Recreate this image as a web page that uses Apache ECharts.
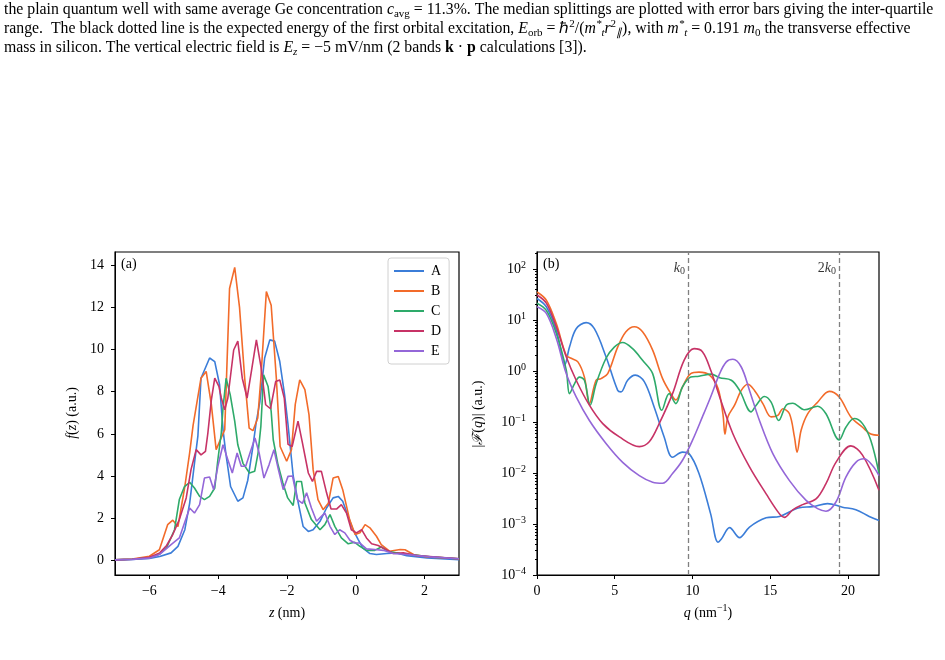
<!DOCTYPE html>
<html>
<head>
<meta charset="utf-8">
<script src="https://cdn.jsdelivr.net/npm/echarts@6/dist/echarts.min.js"></script>
<style>html,body{margin:0;padding:0;background:#fff}#main{width:945px;height:660px}</style>
</head>
<body>
<div id="main"></div>
<script>
// series names and colours
const names = ['A', 'B', 'C', 'D', 'E'];
const colors = ['#3b7dd8', '#f26b2a', '#2eaa6a', '#c73366', '#9467d8'];

// panel (a): f(z) in a.u., pairs [z (nm), f]
const fA = [[-7,0.02],[-6.5,0.04],[-6,0.09],[-5.7,0.18],[-5.37,0.35],[-5.17,0.66],[-4.97,1.45],[-4.83,2.7],[-4.69,4.6],[-4.59,5.9],[-4.5,8.64],[-4.25,9.6],[-4.1,9.43],[-3.96,8.33],[-3.86,6.2],[-3.78,5.1],[-3.64,3.5],[-3.43,2.8],[-3.28,2.96],[-3.14,3.8],[-2.99,5.4],[-2.9,6.5],[-2.79,7.5],[-2.65,9.6],[-2.5,10.46],[-2.36,10.4],[-2.21,9.43],[-2.07,7.85],[-1.97,6.43],[-1.82,4.0],[-1.67,2.7],[-1.53,1.6],[-1.38,1.37],[-1.24,1.45],[-1.04,1.85],[-0.85,2.48],[-0.66,2.96],[-0.51,3.03],[-0.38,2.8],[-0.22,2.08],[-0.08,1.45],[0.07,0.98],[0.2,0.59],[0.41,0.32],[0.6,0.27],[0.9,0.32],[1.19,0.35],[1.48,0.22],[2.07,0.11],[3,0.03]];
const fB = [[-7,0.02],[-6.5,0.06],[-6,0.19],[-5.71,0.5],[-5.47,1.69],[-5.32,1.9],[-5.17,1.6],[-4.97,3.5],[-4.83,5.1],[-4.73,6.4],[-4.5,8.64],[-4.35,8.96],[-4.2,7.4],[-4.06,5.25],[-3.81,6.2],[-3.67,12.9],[-3.52,13.9],[-3.38,12.0],[-3.23,8.64],[-3.1,6.27],[-2.99,6.15],[-2.85,6.75],[-2.76,8.64],[-2.6,12.75],[-2.46,12.1],[-2.31,8.64],[-2.2,5.4],[-2.01,4.7],[-1.87,5.25],[-1.76,7.4],[-1.63,8.56],[-1.48,8.1],[-1.36,6.9],[-1.24,4.3],[-1.1,2.88],[-0.95,2.4],[-0.8,2.7],[-0.66,3.9],[-0.51,3.98],[-0.38,3.35],[-0.18,1.93],[-0.02,1.22],[0.12,1.3],[0.27,1.69],[0.41,1.54],[0.6,1.14],[0.74,0.74],[0.98,0.43],[1.29,0.51],[1.43,0.5],[1.68,0.27],[2.07,0.16],[3,0.07]];
const fC = [[-7,0.02],[-6.5,0.05],[-6,0.12],[-5.7,0.3],[-5.5,0.6],[-5.27,1.45],[-5.13,2.88],[-4.98,3.5],[-4.83,3.7],[-4.69,3.43],[-4.54,3.03],[-4.4,2.88],[-4.25,3.03],[-4.1,3.43],[-4.01,4.77],[-3.91,6.04],[-3.86,7.22],[-3.77,8.64],[-3.65,7.85],[-3.52,6.6],[-3.43,5.48],[-3.28,4.6],[-3.09,4.14],[-2.94,4.22],[-2.84,5.1],[-2.76,6.35],[-2.68,8.8],[-2.55,8.25],[-2.46,7.06],[-2.4,5.72],[-2.27,4.6],[-2.12,3.67],[-1.98,2.96],[-1.82,2.6],[-1.72,3.74],[-1.58,3.74],[-1.48,2.72],[-1.29,1.93],[-1.04,1.45],[-0.9,1.69],[-0.75,2.17],[-0.61,1.61],[-0.42,1.06],[-0.22,0.78],[-0.03,0.85],[0.12,0.66],[0.31,0.47],[0.55,0.47],[0.74,0.63],[0.93,0.43],[1.29,0.32],[1.58,0.27],[2.16,0.16],[3,0.07]];
const fD = [[-7,0.02],[-6.5,0.05],[-6,0.14],[-5.7,0.35],[-5.5,0.7],[-5.32,1.22],[-5.13,1.93],[-4.93,2.96],[-4.79,4.3],[-4.64,5.25],[-4.5,5.0],[-4.37,5.17],[-4.3,6.04],[-4.2,7.6],[-4.1,8.64],[-3.98,8.25],[-3.91,7.7],[-3.81,7.14],[-3.72,7.7],[-3.55,9.98],[-3.43,10.4],[-3.3,8.64],[-3.16,7.7],[-3.02,9.12],[-2.89,10.46],[-2.75,9.12],[-2.62,7.38],[-2.48,7.19],[-2.33,8.48],[-2.21,8.56],[-2.08,7.7],[-1.97,5.5],[-1.85,5.4],[-1.68,6.6],[-1.55,5.56],[-1.38,4.14],[-1.26,3.74],[-1.14,4.22],[-1.0,4.22],[-0.85,3.2],[-0.72,2.43],[-0.56,2.43],[-0.42,2.64],[-0.27,2.24],[-0.13,1.45],[0.02,1.3],[0.17,1.45],[0.31,1.06],[0.46,0.78],[0.65,0.7],[0.84,0.54],[1.09,0.32],[1.38,0.35],[1.77,0.22],[3,0.07]];
const fE = [[-7,0.02],[-6.5,0.04],[-6,0.1],[-5.71,0.27],[-5.37,0.74],[-5.13,1.06],[-4.98,1.77],[-4.83,2.48],[-4.69,2.24],[-4.54,2.64],[-4.4,3.9],[-4.25,3.95],[-4.13,3.35],[-4.01,4.46],[-3.86,5.48],[-3.72,4.77],[-3.59,4.14],[-3.45,5.09],[-3.33,4.46],[-3.2,4.46],[-3.06,5.17],[-2.93,5.8],[-2.81,5.09],[-2.67,3.9],[-2.52,4.54],[-2.38,5.25],[-2.25,4.3],[-2.11,3.35],[-1.97,3.98],[-1.84,4.0],[-1.7,2.88],[-1.55,2.7],[-1.43,3.2],[-1.29,2.48],[-1.14,1.85],[-1.0,2.08],[-0.9,2.24],[-0.75,1.61],[-0.61,1.22],[-0.47,1.45],[-0.32,1.3],[-0.17,0.95],[-0.03,0.82],[0.12,0.82],[0.31,0.54],[0.55,0.51],[0.8,0.47],[1.09,0.32],[1.48,0.27],[2.16,0.16],[3,0.07]];

// panel (b): |F(q)| in a.u., pairs [q (1/nm), |F|]
const FA = [[0,26.5],[0.6,18.2],[1.24,6.3],[1.67,1.62],[1.77,1.29],[2.09,2.95],[2.52,6.76],[3.16,8.9],[3.69,6.76],[4.44,1.9],[5.19,0.417],[5.4,0.39],[5.83,0.66],[6.32,0.83],[6.9,0.62],[7.54,0.195],[8.18,0.051],[8.72,0.0204],[9.36,0.0257],[9.78,0.024],[10.42,0.0098],[11.17,0.00158],[11.64,0.00044],[11.86,0.00051],[12.39,0.00085],[13.03,0.00054],[13.67,0.00087],[14.74,0.00132],[15.6,0.00141],[16.88,0.00209],[17.73,0.00219],[18.69,0.00251],[19.65,0.00214],[20.51,0.0019],[21.37,0.00141],[22,0.00117]];
const FB = [[0,35.5],[0.6,24.5],[1.24,8.5],[1.88,2.04],[2.2,1.78],[2.63,1.51],[3.05,0.76],[3.37,0.23],[3.8,0.66],[4.12,0.71],[4.55,0.89],[5.19,2.95],[5.72,5.9],[6.26,7.4],[6.79,5.9],[7.44,2.57],[8.08,0.71],[8.61,0.36],[8.93,0.27],[9.36,0.49],[9.89,0.89],[10.42,0.95],[11.1,0.83],[11.64,0.46],[11.96,0.145],[12.09,0.058],[12.28,0.126],[12.71,0.214],[13.14,0.417],[13.56,0.55],[13.99,0.417],[14.53,0.23],[15.06,0.126],[15.49,0.135],[15.81,0.182],[16.24,0.145],[16.56,0.051],[16.73,0.0257],[16.99,0.069],[17.41,0.145],[18.05,0.245],[18.8,0.4],[19.44,0.31],[20.19,0.126],[20.94,0.079],[21.47,0.058],[22,0.055]];
const FC = [[0,21.4],[0.6,15.5],[1.24,5.5],[1.88,1.05],[2.09,0.36],[2.41,0.56],[2.73,0.76],[3.05,0.66],[3.42,0.214],[3.8,0.56],[4.44,1.78],[4.97,2.95],[5.51,3.63],[6.15,2.75],[6.79,1.62],[7.44,0.89],[8.03,0.17],[8.5,0.36],[8.93,0.23],[9.36,0.49],[9.89,0.76],[10.42,0.79],[11.2,0.87],[11.75,0.74],[12.5,0.66],[13.03,0.417],[13.78,0.158],[14.1,0.214],[14.63,0.316],[15.06,0.245],[15.55,0.107],[16.03,0.214],[16.45,0.234],[17.2,0.174],[18.05,0.204],[18.59,0.145],[19.44,0.0447],[19.87,0.079],[20.4,0.117],[20.94,0.093],[21.47,0.0437],[22,0.0098]];
const FD = [[0,31],[0.6,21.4],[1.24,7.4],[1.88,1.9],[2.52,0.66],[3.37,0.214],[4.23,0.093],[5.3,0.051],[6.58,0.033],[7.22,0.041],[7.86,0.093],[8.72,0.36],[9.46,1.62],[10.1,2.75],[10.64,2.4],[11.17,1.05],[11.75,0.31],[12.6,0.059],[13.67,0.0132],[14.74,0.0039],[15.6,0.00158],[15.92,0.00135],[16.45,0.0019],[17.09,0.0024],[17.95,0.0031],[18.59,0.0062],[19.23,0.0162],[20.19,0.034],[20.94,0.0224],[22,0.0046]];
const FE = [[0,18.2],[0.6,13.5],[1.24,4.4],[1.88,0.89],[2.52,0.31],[3.37,0.107],[4.44,0.038],[5.51,0.0162],[6.58,0.0089],[7.44,0.0066],[8.08,0.0063],[8.72,0.0098],[9.36,0.0178],[10.0,0.0437],[10.64,0.126],[11.17,0.31],[11.75,0.89],[12.18,1.51],[12.6,1.7],[13.14,1.2],[13.67,0.417],[14.31,0.107],[15.17,0.024],[16.24,0.0071],[17.31,0.0029],[18.05,0.002],[18.59,0.00178],[19.23,0.0027],[19.87,0.0083],[20.51,0.0162],[21.04,0.019],[21.58,0.0141],[22,0.0089]];

// reference wave vectors k0 and 2k0
const kLines = [9.71, 19.42];
const kNames = ['{i|k}{s|0}', '2{i|k}{s|0}'];

// tick labels
const zTicks = [-6, -4, -2, 0, 2];
const fTicks = [0, 2, 4, 6, 8, 10, 12, 14];
const qTicks = [0, 5, 10, 15, 20];
const FTicks = [1e-4, 1e-3, 1e-2, 1e-1, 1, 10, 100];

const serif = 'Liberation Serif';
const fz = [fA, fB, fC, fD, fE];
const Fq = [FA, FB, FC, FD, FE];

const minorTicks = [];
for (let e = -4; e <= 2; e++) for (let m = 2; m <= 9; m++) minorTicks.push(m * Math.pow(10, e));

const minus = v => (v < 0 ? '\u2212' + Math.abs(v) : String(v));
const tickLab = { color: '#000', fontFamily: serif, fontSize: 14 };

const chart = echarts.init(document.getElementById('main'));

const series = [];
names.forEach((n, i) => {
  series.push({
    name: n, type: 'line', xAxisIndex: 0, yAxisIndex: 0, data: fz[i],
    symbol: 'none', lineStyle: { width: 1.6, color: colors[i] }, itemStyle: { color: colors[i] }
  });
});
names.forEach((n, i) => {
  series.push({
    name: n, type: 'line', xAxisIndex: 1, yAxisIndex: 1, data: Fq[i], smooth: 0.35,
    symbol: 'none', lineStyle: { width: 1.6, color: colors[i] }, itemStyle: { color: colors[i] }
  });
});
// k0 markers: dashed verticals and their labels
series.push({
  type: 'scatter', xAxisIndex: 1, yAxisIndex: 1, symbolSize: 0, silent: true,
  data: kLines.map((k, i) => ({ value: [k, 105], label: { formatter: kNames[i] } })),
  label: {
    show: true, position: 'left', distance: 3, color: '#000', fontFamily: serif, fontSize: 14,
    rich: { i: { fontStyle: 'italic', fontFamily: serif, fontSize: 14 }, s: { fontFamily: serif, fontSize: 10, padding: [6, 0, 0, 0] } }
  },
  markLine: {
    silent: true, symbol: ['none', 'none'], label: { show: false },
    lineStyle: { color: '#808080', type: [5, 3], width: 1.3 },
    data: kLines.map(k => ({ xAxis: k }))
  }
});

const capSize = 15.8;
const capRich = {
  i: { fontStyle: 'italic', fontFamily: serif, fontSize: capSize, lineHeight: 20 },
  b: { fontWeight: 'bold', fontFamily: serif, fontSize: capSize, lineHeight: 20 },
  sub: { fontFamily: serif, fontSize: 11, lineHeight: 10, verticalAlign: 'bottom' },
  isub: { fontFamily: serif, fontStyle: 'italic', fontSize: 11, lineHeight: 10, verticalAlign: 'bottom' },
  sup: { fontFamily: serif, fontSize: 11, lineHeight: 10, verticalAlign: 'top' },
  isup: { fontFamily: serif, fontStyle: 'italic', fontSize: 11, lineHeight: 10, verticalAlign: 'top' }
};

chart.setOption({
  animation: false,
  grid: [
    { left: 115, top: 252, width: 344, height: 323, show: true, borderColor: '#000', borderWidth: 1.2, backgroundColor: 'transparent' },
    { left: 537, top: 252, width: 342, height: 323, show: true, borderColor: '#000', borderWidth: 1.2, backgroundColor: 'transparent' }
  ],
  xAxis: [
    { type: 'value', gridIndex: 0, min: -7, max: 3,
      axisLine: { onZero: false, lineStyle: { color: '#000' } }, splitLine: { show: false },
      axisTick: { customValues: zTicks, length: 4, lineStyle: { color: '#000' } },
      axisLabel: Object.assign({ customValues: zTicks, margin: 9, formatter: minus }, tickLab) },
    { type: 'value', gridIndex: 1, min: 0, max: 22,
      axisLine: { onZero: false, lineStyle: { color: '#000' } }, splitLine: { show: false },
      axisTick: { customValues: qTicks, length: 4, lineStyle: { color: '#000' } },
      axisLabel: Object.assign({ customValues: qTicks, margin: 9 }, tickLab) }
  ],
  yAxis: [
    { type: 'value', gridIndex: 0, min: -0.7, max: 14.63, position: 'left',
      axisLine: { show: true, onZero: false, lineStyle: { color: '#000' } }, splitLine: { show: false },
      axisTick: { show: true, customValues: fTicks, length: 4, lineStyle: { color: '#000' } },
      axisLabel: Object.assign({ customValues: fTicks, margin: 11 }, tickLab) },
    { type: 'log', logBase: 10, gridIndex: 1, min: 1e-4, max: 216, position: 'left',
      axisLine: { show: true, onZero: false, lineStyle: { color: '#000' } }, splitLine: { show: false },
      axisTick: { show: true, customValues: FTicks, length: 4, lineStyle: { color: '#000' } },
      axisLabel: Object.assign({
        customValues: FTicks, margin: 11, lineHeight: 18,
        formatter: v => { const e = Math.round(Math.log10(v)); return '10{e|' + minus(e) + '}'; },
        rich: { e: { fontFamily: serif, fontSize: 10, lineHeight: 10, verticalAlign: 'top', color: '#000' } }
      }, tickLab) },
    { type: 'log', logBase: 10, gridIndex: 1, min: 1e-4, max: 216, position: 'left', offset: 0,
      axisLine: { show: false, onZero: false }, splitLine: { show: false }, axisLabel: { show: false },
      axisTick: { show: true, customValues: minorTicks, length: 2, lineStyle: { color: '#000' } } }
  ],
  legend: {
    data: names, orient: 'vertical', left: 388, top: 258, icon: 'rect',
    itemWidth: 30, itemHeight: 2, itemGap: 6, padding: [6, 8, 6, 6],
    backgroundColor: 'rgba(255,255,255,0.8)', borderColor: '#d0d0d0', borderWidth: 1, borderRadius: 3,
    textStyle: { fontFamily: serif, fontSize: 14, color: '#000', lineHeight: 14, padding: [0, 0, 0, 2] }
  },
  series: series,
  graphic: [
    // caption lines above the figure
    ...[
      'the plain quantum well with same average Ge concentration {i|c}{sub|avg} = 11.3%. The median splittings are plotted with error bars giving the inter-quartile',
      'range.  The black dotted line is the expected energy of the first orbital excitation, {i|E}{sub|orb} = \u210f{sup|2}/({i|m}{isup|*}{isub|t}{i|r}{sup|2}{isub|\u2225}), with {i|m}{isup|*}{isub|t} = 0.191 {i|m}{sub|0} the transverse effective',
      'mass in silicon. The vertical electric field is {i|E}{isub|z} = \u22125 mV/nm (2 bands {b|k} \u00b7 {b|p} calculations [3]).'
    ].map((t, i) => ({
      type: 'text', left: 4, top: i * 19,
      style: { text: t, fill: '#000', fontFamily: serif, fontSize: capSize, lineHeight: 20, rich: capRich }
    })),
    { type: 'text', left: 121, top: 257, style: { text: '(a)', fill: '#000', fontFamily: serif, fontSize: 14 } },
    { type: 'text', left: 543, top: 257, style: { text: '(b)', fill: '#000', fontFamily: serif, fontSize: 14 } },
    { type: 'text', x: 72, y: 413, rotation: Math.PI / 2,
      style: { text: '{i|f}({i|z}) (a.u.)', align: 'center', verticalAlign: 'middle', fill: '#000', fontFamily: serif, fontSize: 14,
        rich: { i: { fontStyle: 'italic', fontFamily: serif, fontSize: 14 } } } },
    { type: 'text', x: 478, y: 414, rotation: Math.PI / 2,
      style: { text: '|{i|\u2131}({i|q})| (a.u.)', align: 'center', verticalAlign: 'middle', fill: '#000', fontFamily: serif, fontSize: 14,
        rich: { i: { fontStyle: 'italic', fontFamily: serif, fontSize: 14 } } } },
    { type: 'text', x: 287, y: 613,
      style: { text: '{i|z} (nm)', align: 'center', verticalAlign: 'middle', fill: '#000', fontFamily: serif, fontSize: 14,
        rich: { i: { fontStyle: 'italic', fontFamily: serif, fontSize: 14 } } } },
    { type: 'text', x: 708, y: 613,
      style: { text: '{i|q} (nm{s|\u22121})', align: 'center', verticalAlign: 'middle', fill: '#000', fontFamily: serif, fontSize: 14, lineHeight: 20,
        rich: { i: { fontStyle: 'italic', fontFamily: serif, fontSize: 14, lineHeight: 20 }, s: { fontFamily: serif, fontSize: 10, lineHeight: 10, verticalAlign: 'top' } } } }
  ]
});
</script>
</body>
</html>
